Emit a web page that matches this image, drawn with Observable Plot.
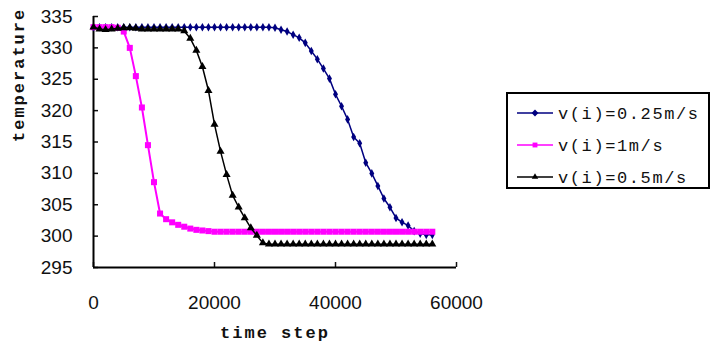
<!DOCTYPE html>
<html>
<head>
<meta charset="utf-8">
<script src="https://cdn.jsdelivr.net/npm/d3@7"></script>
<script src="https://cdn.jsdelivr.net/npm/@observablehq/plot@0.6"></script>
<style>
  html, body { margin: 0; padding: 0; background: #fff; }
  #chart { width: 711px; height: 354px; overflow: hidden; }
</style>
</head>
<body>
<div id="chart"></div>
<script>
// time steps (x)
const timeSteps = [0,1000,2000,3000,4000,5000,6000,7000,8000,9000,10000,11000,12000,13000,14000,15000,16000,17000,18000,19000,20000,21000,22000,23000,24000,25000,26000,27000,28000,29000,30000,31000,32000,33000,34000,35000,36000,37000,38000,39000,40000,41000,42000,43000,44000,45000,46000,47000,48000,49000,50000,51000,52000,53000,54000,55000,56000];

// v(i)=0.25m/s
const v025 = [333.3,333.3,333.3,333.3,333.3,333.3,333.3,333.3,333.3,333.3,333.3,333.3,333.3,333.3,333.3,333.3,333.3,333.3,333.3,333.3,333.3,333.3,333.3,333.3,333.3,333.3,333.3,333.3,333.3,333.3,333.2,332.9,332.6,332.1,331.6,330.8,329.5,328.2,326.7,325.1,322.6,320.7,318.6,315.8,314.8,311.7,310.0,308.0,306.0,304.6,302.9,302.2,301.7,300.8,300.4,300.2,300.2];

// v(i)=1m/s
const v1 = [333.3,333.3,333.3,333.3,333.2,332.6,330.0,325.5,320.5,314.5,308.6,303.6,302.7,302.2,301.8,301.5,301.2,301.0,300.9,300.8,300.7,300.7,300.7,300.7,300.7,300.7,300.7,300.7,300.7,300.7,300.7,300.7,300.7,300.7,300.7,300.7,300.7,300.7,300.7,300.7,300.7,300.7,300.7,300.7,300.7,300.7,300.7,300.7,300.7,300.7,300.7,300.7,300.7,300.7,300.7,300.7,300.7];

// v(i)=0.5m/s
const v05 = [333.3,333.0,332.9,333.0,333.1,333.2,333.2,333.1,333.0,333.0,333.0,333.0,333.0,333.0,333.0,332.7,331.5,329.6,327.0,323.2,317.8,313.5,309.8,306.5,304.6,302.9,301.3,300.1,298.9,298.7,298.7,298.7,298.7,298.7,298.7,298.7,298.7,298.7,298.7,298.7,298.7,298.7,298.7,298.7,298.7,298.7,298.7,298.7,298.7,298.7,298.7,298.7,298.7,298.7,298.7,298.7,298.7];

const seriesNames = ["v(i)=0.25m/s", "v(i)=1m/s", "v(i)=0.5m/s"];
const seriesColors = ["#000080", "#FF00FF", "#000000"];
const seriesSymbols = ["diamond", "square", "triangle"];
const seriesValues = [v025, v1, v05];

const xTicks = [0, 20000, 40000, 60000];
const yTicks = [295, 300, 305, 310, 315, 320, 325, 330, 335];

const rows = [];
seriesValues.forEach((vals, si) => {
  vals.forEach((v, i) => rows.push({series: seriesNames[si], t: timeSteps[i], temp: v}));
});

const dotR = [2.6, 3.4, 3];
const seriesMarks = [];
seriesNames.forEach((name, si) => {
  const data = rows.filter(r => r.series === name);
  seriesMarks.push(Plot.line(data, {x: "t", y: "temp", stroke: seriesColors[si], strokeWidth: si === 1 ? 2 : 1.5}));
  seriesMarks.push(Plot.dot(data, {x: "t", y: "temp", symbol: seriesSymbols[si], fill: seriesColors[si], stroke: "none", r: dotR[si]}));
});

const chart = Plot.plot({
  width: 711,
  height: 354,
  marginLeft: 93,
  marginRight: 255,
  marginTop: 16,
  marginBottom: 87,
  x: {domain: [0, 60000]},
  y: {domain: [295, 335]},
  style: {fontFamily: "'Liberation Sans', Arial, sans-serif", fontSize: "19px", color: "#111", background: "#fff", overflow: "visible"},
  marks: [
    Plot.axisX({ticks: xTicks, tickSize: -5, tickPadding: 33, tickFormat: d3.format("d"), label: null, strokeWidth: 1.5}),
    Plot.axisY({ticks: yTicks, tickSize: -5, tickPadding: 26, tickFormat: d3.format("d"), label: null, strokeWidth: 1.5}),
    Plot.ruleX([0], {stroke: "#000", strokeWidth: 2}),
    Plot.ruleY([295], {stroke: "#000", strokeWidth: 2}),
    ...seriesMarks,
    Plot.text(["time step"], {frameAnchor: "bottom", dy: 70, fontSize: 17, fontWeight: "bold", fontFamily: "'Liberation Mono', monospace", fill: "#111"}),
    Plot.text(["temperature"], {frameAnchor: "left", dx: -75, rotate: -90, fontSize: 17, fontWeight: "bold", fontFamily: "'Liberation Mono', monospace", fill: "#111"})
  ]
});

document.getElementById("chart").appendChild(chart);

// letter spacing for axis titles
d3.select(chart).selectAll("text").filter(function() {
  const t = this.textContent; return t === "time step" || t === "temperature";
}).attr("letter-spacing", "2px");

// legend
const svg = d3.select(chart);
const lg = svg.append("g").attr("class", "legend");
lg.append("rect").attr("x", 507).attr("y", 93).attr("width", 202).attr("height", 95)
  .attr("fill", "#fff").attr("stroke", "#000").attr("stroke-width", 2);
const rowY = [113, 145, 177];
const symMap = {diamond: d3.symbolDiamond2, square: d3.symbolSquare2, triangle: d3.symbolTriangle2};
seriesNames.forEach((name, i) => {
  lg.append("line").attr("x1", 517).attr("x2", 553).attr("y1", rowY[i]).attr("y2", rowY[i])
    .attr("stroke", seriesColors[i]).attr("stroke-width", 1.5);
  lg.append("path").attr("transform", `translate(535,${rowY[i]})`)
    .attr("d", d3.symbol(symMap[seriesSymbols[i]], 30)())
    .attr("fill", seriesColors[i]);
  lg.append("text").attr("x", 558).attr("y", rowY[i]).attr("dy", "0.35em")
    .attr("text-anchor", "start")
    .attr("font-family", "'Liberation Mono', monospace").attr("font-size", 17).attr("font-weight", "normal")
    .attr("letter-spacing", "1.6px").attr("fill", "#111").text(name);
});
</script>
</body>
</html>
